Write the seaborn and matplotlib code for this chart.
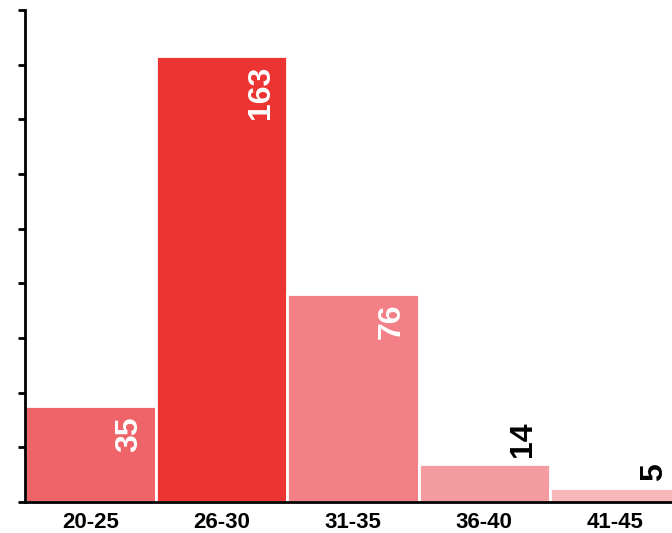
import matplotlib
matplotlib.use("Agg")
import matplotlib.pyplot as plt
import seaborn as sns
import pandas as pd

# Age groups and respondent counts
age_groups = ["20-25", "26-30", "31-35", "36-40", "41-45"]
counts = [35, 163, 76, 14, 5]
bar_colors = ["#EF6468", "#EC3532", "#F28086", "#F59CA0", "#F8B7B8"]
inside_label = [True, True, True, False, False]

sns.set_theme(style="white")
plt.rcParams["font.family"] = ["Liberation Sans", "DejaVu Sans"]

df = pd.DataFrame({"age": age_groups, "count": counts})

fig = plt.figure(figsize=(6.72, 5.33), dpi=100)
ax = fig.add_axes([25 / 672, 31 / 533, 656 / 672, 492 / 533])

sns.barplot(data=df, x="age", y="count", hue="age", palette=bar_colors,
            width=1.0, edgecolor="white", linewidth=2.0, saturation=1,
            legend=False, ax=ax)

ax.set_xlim(-0.5, 4.5)
ax.set_ylim(0, 180)
ax.set_yticks(range(0, 181, 20))
ax.set_yticklabels([])
ax.set_xlabel("")
ax.set_ylabel("")

for side in ["top", "right"]:
    ax.spines[side].set_visible(False)
for side in ["left", "bottom"]:
    ax.spines[side].set_color("black")
    ax.spines[side].set_linewidth(2)

ax.tick_params(axis="y", which="major", left=True, length=5, width=2,
               color="black", direction="out")
ax.tick_params(axis="x", bottom=False, pad=1.5)
for lbl in ax.get_xticklabels():
    lbl.set_fontweight("bold")
    lbl.set_fontsize(16)
    lbl.set_color("black")

# Value labels, rotated, tucked against the right edge of each bar
for i, (v, inside) in enumerate(zip(counts, inside_label)):
    x = i + 0.5 - 0.09
    if inside:
        ax.annotate(str(v), xy=(x, v), xytext=(0, -7), textcoords="offset points",
                    rotation=90, ha="right", va="top", color="white",
                    fontsize=23, fontweight="bold")
    else:
        ax.annotate(str(v), xy=(x, v), xytext=(0, 5), textcoords="offset points",
                    rotation=90, ha="right", va="bottom", color="black",
                    fontsize=23, fontweight="bold")

fig.savefig("out.png", dpi=100)
